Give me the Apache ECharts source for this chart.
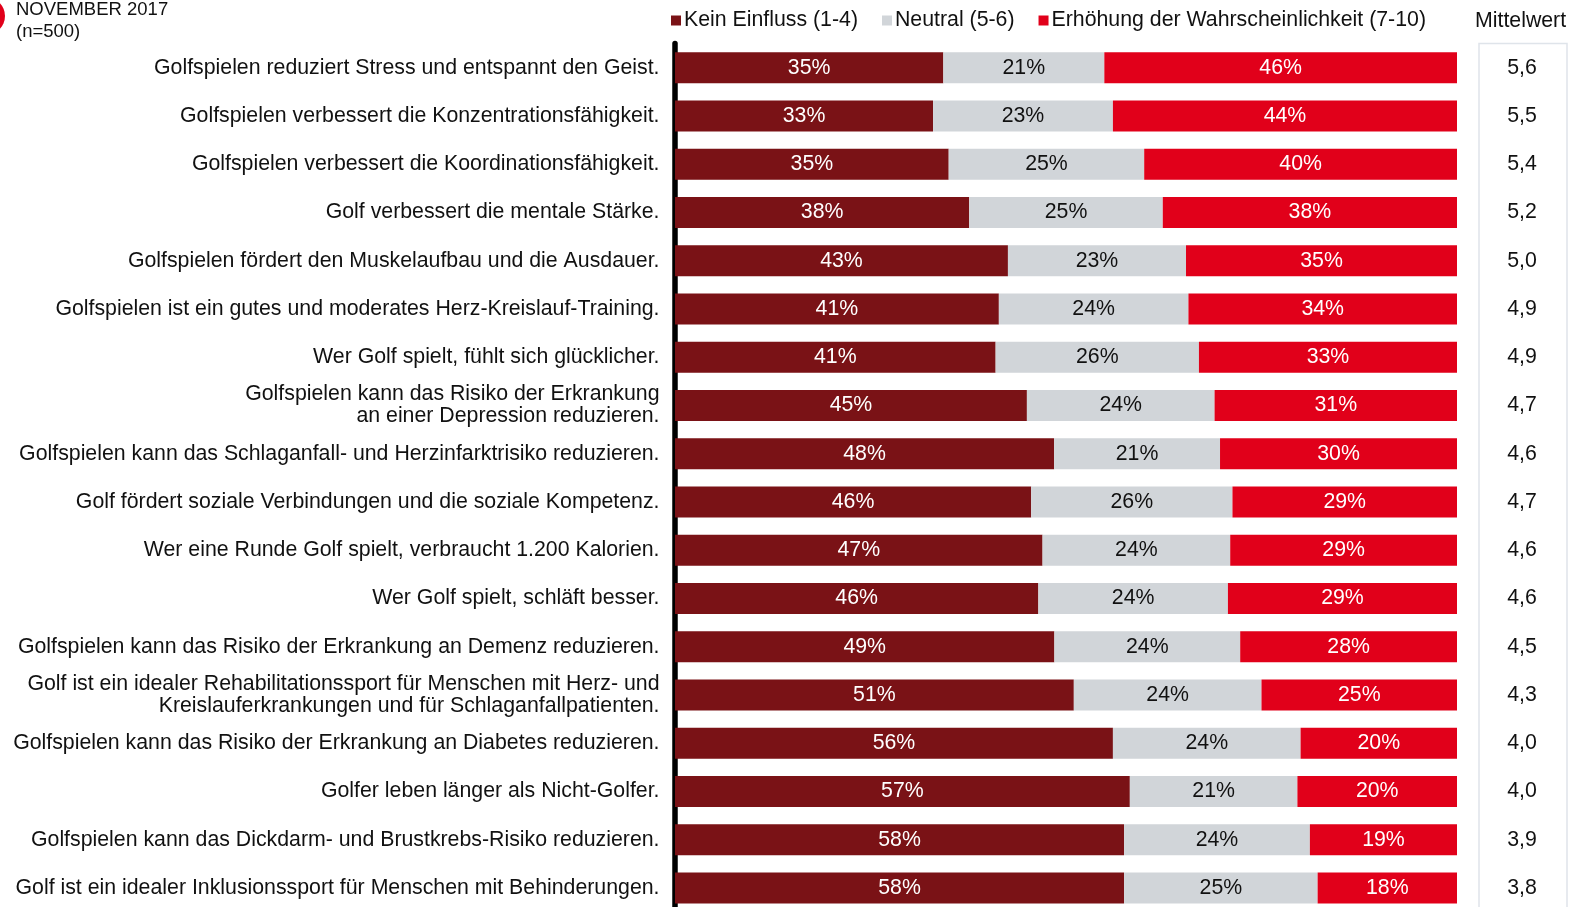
<!DOCTYPE html>
<html>
<head>
<meta charset="utf-8">
<script src="https://cdn.jsdelivr.net/npm/echarts@6/dist/echarts.min.js"></script>
<style>
html,body{margin:0;padding:0;background:#fff;}
#c{width:1577px;height:907px;}
</style>
</head>
<body>
<div id="c"></div>
<script>
var categories = [
  'Golfspielen reduziert Stress und entspannt den Geist.',
  'Golfspielen verbessert die Konzentrationsfähigkeit.',
  'Golfspielen verbessert die Koordinationsfähigkeit.',
  'Golf verbessert die mentale Stärke.',
  'Golfspielen fördert den Muskelaufbau und die Ausdauer.',
  'Golfspielen ist ein gutes und moderates Herz-Kreislauf-Training.',
  'Wer Golf spielt, fühlt sich glücklicher.',
  'Golfspielen kann das Risiko der Erkrankung\nan einer Depression reduzieren.',
  'Golfspielen kann das Schlaganfall- und Herzinfarktrisiko reduzieren.',
  'Golf fördert soziale Verbindungen und die soziale Kompetenz.',
  'Wer eine Runde Golf spielt, verbraucht 1.200 Kalorien.',
  'Wer Golf spielt, schläft besser.',
  'Golfspielen kann das Risiko der Erkrankung an Demenz reduzieren.',
  'Golf ist ein idealer Rehabilitationssport für Menschen mit Herz- und\nKreislauferkrankungen und für Schlaganfallpatienten.',
  'Golfspielen kann das Risiko der Erkrankung an Diabetes reduzieren.',
  'Golfer leben länger als Nicht-Golfer.',
  'Golfspielen kann das Dickdarm- und Brustkrebs-Risiko reduzieren.',
  'Golf ist ein idealer Inklusionssport für Menschen mit Behinderungen.'
];
var keinEinfluss = [35,33,35,38,43,41,41,45,48,46,47,46,49,51,56,57,58,58];
var neutral      = [21,23,25,25,23,24,26,24,21,26,24,24,24,24,24,21,24,25];
var erhoehung    = [46,44,40,38,35,34,33,31,30,29,29,29,28,25,20,20,19,18];
var mittelwert   = [5.6,5.5,5.4,5.2,5.0,4.9,4.9,4.7,4.6,4.7,4.6,4.6,4.5,4.3,4.0,4.0,3.9,3.8];
var seriesNames  = ['Kein Einfluss (1-4)','Neutral (5-6)','Erhöhung der Wahrscheinlichkeit (7-10)'];

var FONT = 'Liberation Sans, Arial, sans-serif';
var FS = 21.3;
var raw = [keinEinfluss, neutral, erhoehung];
var sums = categories.map(function(_, i){ return keinEinfluss[i] + neutral[i] + erhoehung[i]; });
var colors = ['#7a1216', '#d1d5d9', '#e1001a'];
var labelColors = ['#ffffff', '#111111', '#ffffff'];

var series = raw.map(function(arr, s){
  return {
    name: seriesNames[s],
    type: 'bar',
    stack: 'total',
    barWidth: 31,
    yAxisIndex: 0,
    itemStyle: { color: colors[s] },
    label: {
      show: true,
      position: 'inside',
      color: labelColors[s],
      fontFamily: FONT,
      fontSize: FS,
      formatter: function(p){ return arr[p.dataIndex] + '%'; }
    },
    emphasis: { disabled: true },
    data: arr.map(function(v, i){ return v / sums[i] * 100; })
  };
});

var chart = echarts.init(document.getElementById('c'), null, {renderer: 'canvas'});
chart.setOption({
  animation: false,
  backgroundColor: '#ffffff',
  textStyle: { fontFamily: FONT },
  graphic: [
    { type: 'circle', shape: { cx: -14, cy: 16, r: 19 }, style: { fill: '#e1001a' }, z: 10 },
    { type: 'text', left: 16, top: 0, style: { text: 'NOVEMBER 2017', font: '18.5px ' + FONT, fill: '#111' } },
    { type: 'text', left: 16, top: 22, style: { text: '(n=500)', font: '18.5px ' + FONT, fill: '#111' } },
    { type: 'text', left: 1475, top: 11, style: { text: 'Mittelwert', font: FS + 'px ' + FONT, fill: '#111' } },
    { type: 'rect', shape: { x: 1479, y: 43.5, width: 88, height: 900 }, style: { fill: '#fff', stroke: '#dfe4ea', lineWidth: 1.5 }, z: -1 }
  ],
  legend: {
    left: 666,
    top: 5,
    icon: 'rect',
    itemWidth: 10,
    itemHeight: 10,
    itemGap: 24,
    textStyle: { fontFamily: FONT, fontSize: FS, color: '#111', padding: [0,0,0,-2] },
    data: seriesNames
  },
  grid: { left: 675, right: 120, top: 43.6, height: 868.5, containLabel: false, outerBoundsMode: 'none' },
  xAxis: { type: 'value', min: 0, max: 100, show: false },
  yAxis: [
    {
      type: 'category',
      inverse: true,
      data: categories,
      offset: 3.5,
      axisLine: { show: true, lineStyle: { color: '#000', width: 5.5 } },
      axisTick: { show: false },
      axisLabel: { margin: 12, fontFamily: FONT, fontSize: FS, color: '#111', lineHeight: 22, align: 'right' }
    },
    {
      type: 'category',
      inverse: true,
      position: 'right',
      data: mittelwert.map(function(v){ return v.toFixed(1).replace('.', ','); }),
      axisLine: { show: false },
      axisTick: { show: false },
      axisLabel: { margin: 65, align: 'center', fontFamily: FONT, fontSize: FS, color: '#111' }
    }
  ],
  series: series
});
</script>
</body>
</html>
